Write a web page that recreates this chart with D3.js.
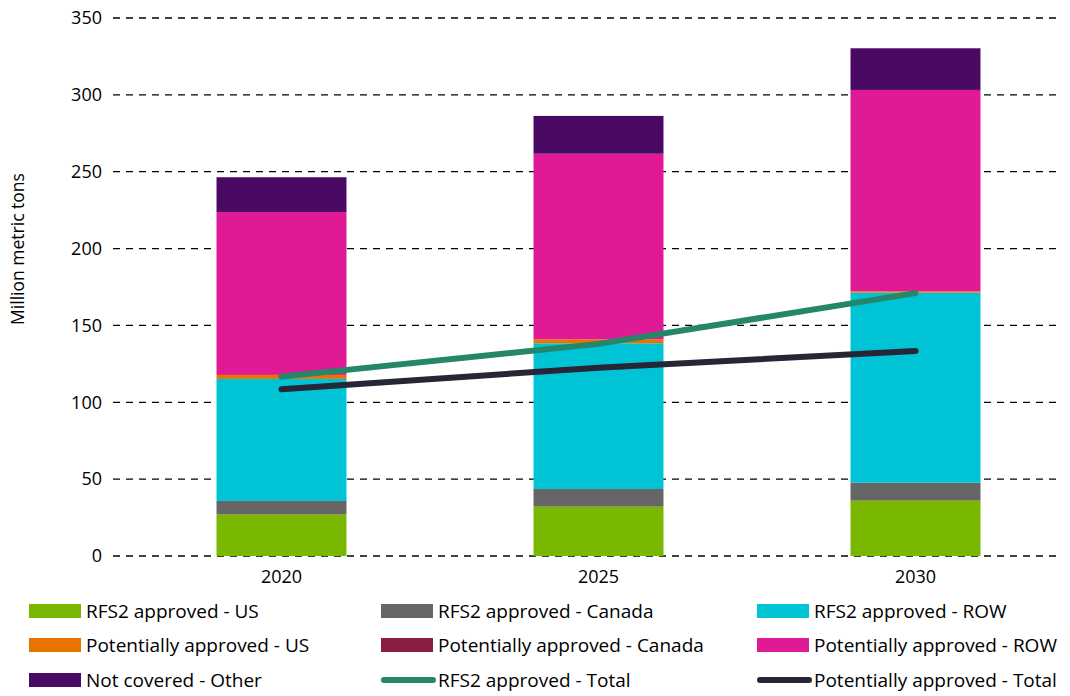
<!DOCTYPE html>
<html>
<head>
<meta charset="utf-8">
<script src="https://cdn.jsdelivr.net/npm/d3@7"></script>
<style>
  html, body { margin: 0; padding: 0; background: #fff; }
  svg { display: block; font-family: "Open Sans", Lato, sans-serif; }
</style>
</head>
<body>
<svg id="chart" width="1070" height="696"></svg>
<script>
// Years on the category axis
const years = ["2020", "2025", "2030"];

// Stacked supply components (million metric tons)
const rfs2US        = [27.0, 32.1, 36.0];
const rfs2Canada    = [8.8, 11.5, 11.7];
const rfs2ROW       = [79.4, 94.8, 123.6];
const potentialUS   = [2.6, 2.6, 0.9];
const potentialCan  = [0.0, 0.0, 0.0];
const potentialROW  = [106.0, 120.7, 131.0];
const notCovered    = [22.6, 24.6, 27.1];

// Totals drawn as lines
const rfs2Total      = [116.7, 138.0, 171.0];
const potentialTotal = [108.5, 122.5, 133.4];

const yTicks = [0, 50, 100, 150, 200, 250, 300, 350];

const barSeries = [
  { name: "RFS2 approved - US",            values: rfs2US,       color: "#7ab800" },
  { name: "RFS2 approved - Canada",        values: rfs2Canada,   color: "#666666" },
  { name: "RFS2 approved - ROW",           values: rfs2ROW,      color: "#00c4d6" },
  { name: "Potentially approved - US",     values: potentialUS,  color: "#e87400" },
  { name: "Potentially approved - Canada", values: potentialCan, color: "#8a1e40" },
  { name: "Potentially approved - ROW",    values: potentialROW, color: "#e01a95" },
  { name: "Not covered - Other",           values: notCovered,   color: "#4a0a64" }
];
const lineSeries = [
  { name: "RFS2 approved - Total",         values: rfs2Total,      color: "#25876a" },
  { name: "Potentially approved - Total",  values: potentialTotal, color: "#262637" }
];

const svg = d3.select("#chart");

const y = d3.scaleLinear().domain([0, 350]).range([556, 18]);
const x = d3.scaleBand().domain(years).range([123, 1074]).paddingInner(0.59).paddingOuter(0.295);

// Dashed horizontal gridlines
svg.append("g")
  .selectAll("line")
  .data(yTicks)
  .join("line")
  .attr("x1", 113).attr("x2", 1062)
  .attr("y1", d => y(d)).attr("y2", d => y(d))
  .attr("stroke", "#000")
  .attr("stroke-width", 1.3)
  .attr("stroke-dasharray", "7,6");

// Stack the bar components
const rows = years.map((yr, i) => {
  const r = { year: yr };
  barSeries.forEach(s => { r[s.name] = s.values[i]; });
  return r;
});
const stack = d3.stack().keys(barSeries.map(s => s.name));
const stacked = stack(rows);

svg.append("g")
  .selectAll("g")
  .data(stacked)
  .join("g")
  .attr("fill", (d, i) => barSeries[i].color)
  .selectAll("rect")
  .data(d => d)
  .join("rect")
  .attr("x", d => x(d.data.year))
  .attr("width", x.bandwidth())
  .attr("y", d => y(d[1]))
  .attr("height", d => Math.max(0, y(d[0]) - y(d[1])));

// Total lines
const line = d3.line()
  .x((d, i) => x(years[i]) + x.bandwidth() / 2)
  .y(d => y(d));

svg.append("g")
  .selectAll("path")
  .data(lineSeries)
  .join("path")
  .attr("d", d => line(d.values))
  .attr("fill", "none")
  .attr("stroke", d => d.color)
  .attr("stroke-width", 6)
  .attr("stroke-linecap", "round")
  .attr("stroke-linejoin", "round");

// Y axis labels
const yAxis = d3.axisLeft(y).tickValues(yTicks).tickSize(0).tickPadding(0);
const gy = svg.append("g").attr("transform", "translate(102,0)").call(yAxis);
gy.select(".domain").remove();
gy.selectAll("text")
  .attr("font-size", 18)
  .attr("font-family", "'Open Sans', Lato, sans-serif")
  .attr("fill", "#000");

// X axis labels
const xAxis = d3.axisBottom(x).tickSize(0).tickPadding(0);
const gx = svg.append("g").attr("transform", "translate(0,570)").call(xAxis);
gx.select(".domain").remove();
gx.selectAll("text")
  .attr("font-size", 18)
  .attr("font-family", "'Open Sans', Lato, sans-serif")
  .attr("fill", "#000");

// Y axis title
svg.append("text")
  .attr("transform", "translate(24,249) rotate(-90)")
  .attr("text-anchor", "middle")
  .attr("font-size", 17.5)
  .attr("fill", "#000")
  .text("Million metric tons");

// Legend: three columns, three rows
const legendItems = [
  ...barSeries.map(s => ({ name: s.name, color: s.color, kind: "rect" })),
  ...lineSeries.map(s => ({ name: s.name, color: s.color, kind: "line" }))
];
const colX = [29, 381, 757];
const rowY = [611, 645, 680];

const lg = svg.append("g").selectAll("g")
  .data(legendItems)
  .join("g")
  .attr("transform", (d, i) => `translate(${colX[i % 3]},${rowY[Math.floor(i / 3)]})`);

lg.filter(d => d.kind === "rect")
  .append("rect")
  .attr("x", 0).attr("y", -7)
  .attr("width", 52).attr("height", 14)
  .attr("fill", d => d.color);

lg.filter(d => d.kind === "line")
  .append("line")
  .attr("x1", 3).attr("x2", 52)
  .attr("y1", 0).attr("y2", 0)
  .attr("stroke", d => d.color)
  .attr("stroke-width", 6)
  .attr("stroke-linecap", "round");

lg.append("text")
  .attr("x", 57)
  .attr("y", 0)
  .attr("dy", "0.35em")
  .attr("font-size", 19)
  .attr("fill", "#000")
  .text(d => d.name);
</script>
</body>
</html>
